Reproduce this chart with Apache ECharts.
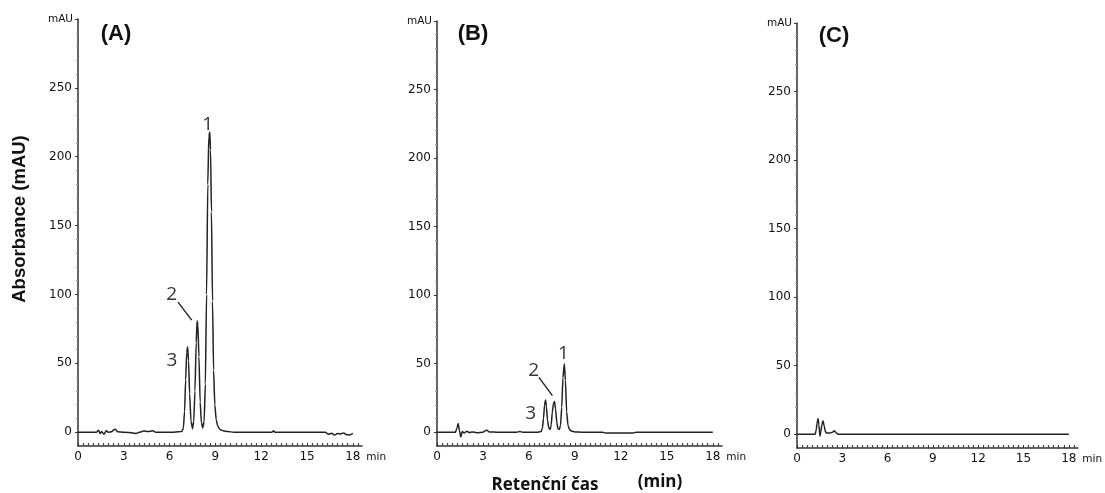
<!DOCTYPE html>
<html>
<head>
<meta charset="utf-8">
<script src="https://cdn.jsdelivr.net/npm/echarts@6/dist/echarts.min.js"></script>
<style>html,body{margin:0;padding:0;background:#fff;}#c{width:1105px;height:493px;}</style>
</head>
<body>
<div id="c"></div>
<script>
// ---- data (time in min, absorbance in mAU) ----
var panelTitles = ['(A)', '(B)', '(C)'];
var xTickLabels = [0, 3, 6, 9, 12, 15, 18];
var yTickLabels = [0, 50, 100, 150, 200, 250];

var aTime = [0, 1.2, 1.35, 1.45, 1.55, 1.7, 1.85, 2.0, 2.2, 2.35, 2.45, 2.6, 3.0, 3.6, 3.8, 4.0, 4.3, 4.6, 4.9, 5.1, 6.0, 6.8,
  6.9, 6.98, 7.05, 7.12, 7.18, 7.24, 7.31, 7.4, 7.5, 7.58, 7.66, 7.74, 7.8, 7.85, 7.92, 8.0, 8.08, 8.17,
  8.26, 8.34, 8.42, 8.5, 8.57, 8.63, 8.68, 8.74, 8.81, 8.88, 8.96, 9.05, 9.15, 9.3, 9.5, 9.8, 10.2,
  12.0, 12.7, 12.8, 12.9, 13.5, 16.2, 16.4, 16.6, 16.8, 17.0, 17.2, 17.4, 17.6, 17.8, 18.0];
var aAbs = [0, 0, 1.5, -1, 0.5, -1.5, 1, 0, 0.3, 1.8, 2.2, 0.3, 0, -0.5, -1, 0, 0.8, 0.5, 1, 0, 0, 0.5,
  3, 15, 38, 58, 62, 52, 28, 8, 2.5, 8, 30, 65, 81, 78, 55, 22, 7, 3,
  8, 35, 100, 180, 215, 218, 205, 160, 95, 45, 20, 9, 4.5, 2, 1, 0.5, 0,
  0, 0, 1, 0, 0, 0, -1.5, -0.8, -2, -1, -1.2, -0.5, -1.8, -2, -0.8];

var bTime = [0, 1.2, 1.3, 1.38, 1.47, 1.55, 1.65, 1.8, 1.95, 2.1, 2.3, 2.6, 3.0, 3.15, 3.25, 3.4, 4.0, 5.2, 5.4, 5.6, 6.5,
  6.8, 6.88, 6.95, 7.02, 7.08, 7.14, 7.21, 7.3, 7.38, 7.45, 7.52, 7.6, 7.67, 7.74, 7.82, 7.9, 7.98,
  8.06, 8.14, 8.22, 8.31, 8.38, 8.46, 8.55, 8.65, 8.8, 9.0, 9.5, 10.8, 11.0, 12.8, 13.0, 18.0];
var bAbs = [0, 0, 3, 6.5, 1, -3.5, 0.5, -0.5, 0.8, -0.3, 0.3, -0.3, 0, 1.2, 1.5, 0.3, 0, 0, 0.6, 0, 0,
  0.5, 3, 10, 20, 23.5, 19, 9, 3, 2, 5, 14, 21, 22.5, 17, 7, 2.5, 2,
  5, 18, 40, 50, 38, 15, 5, 2, 0.8, 0.3, 0, 0, -0.5, -0.5, 0, 0];

var cTime = [0, 1.2, 1.27, 1.33, 1.39, 1.45, 1.52, 1.58, 1.65, 1.72, 1.8, 1.88, 1.95, 2.2, 2.35, 2.48, 2.6, 2.75, 18];
var cAbs = [0, 0, 3, 8, 11.5, 7, -1.5, 2, 7, 9.8, 6, 2, 1, 1, 1.5, 2.5, 1, 0, 0];

// peak annotations: [label, time, mAU]
var aPeakLabels = [['1', 8.5, 223], ['2', 6.14, 99.6], ['3', 6.16, 52]];
var bPeakLabels = [['1', 8.25, 57.4], ['2', 6.31, 45], ['3', 6.11, 13.6]];
var aLeader = [[6.55, 94.5], [7.45, 81.4]];
var bLeader = [[6.65, 40], [7.53, 26.8]];

function zip(t, v) { var out = []; for (var i = 0; i < t.length; i++) out.push([t[i], v[i]]); return out; }

var grids = [
  {left: 78, top: 19, width: 284, height: 427},
  {left: 437, top: 21, width: 285, height: 425},
  {left: 797, top: 23, width: 285, height: 425}
];

var tickFont = {fontFamily: 'DejaVu Sans', fontSize: 12, color: '#111'};
var xAxes = [], yAxes = [];
for (var g = 0; g < 3; g++) {
  xAxes.push({
    type: 'value', gridIndex: g, min: 0, max: 18.6, interval: 3,
    name: 'min', nameLocation: 'end', nameGap: 3,
    nameTextStyle: {fontFamily: 'DejaVu Sans', fontSize: 10.5, color: '#111', verticalAlign: 'top', padding: [6, 0, 0, 0]},
    axisLine: {show: true, onZero: false, lineStyle: {color: '#333', width: 1.5}},
    axisTick: {show: true, inside: true, length: 3, customValues: xTickLabels, lineStyle: {color: '#333'}},
    minorTick: {show: true, splitNumber: 9, length: 3, lineStyle: {color: '#444', width: 1.2}},
    axisLabel: Object.assign({margin: 5, customValues: xTickLabels}, tickFont),
    splitLine: {show: false}
  });
  yAxes.push({
    type: 'value', gridIndex: g, min: -10, max: 300,
    name: 'mAU', nameLocation: 'end', nameGap: 0,
    nameTextStyle: {fontFamily: 'DejaVu Sans', fontSize: 10.5, color: '#111', align: 'right', verticalAlign: 'middle', padding: [0, 5, 0, 0]},
    axisLine: {show: true, onZero: false, lineStyle: {color: '#333', width: 1.5}},
    axisTick: {show: true, inside: false, length: 3, customValues: [0, 50, 100, 150, 200, 250, 300], lineStyle: {color: '#333'}},
    minorTick: {show: true, splitNumber: 5, length: 2, lineStyle: {color: '#999'}},
    axisLabel: Object.assign({margin: 6, customValues: yTickLabels}, tickFont),
    splitLine: {show: false}
  });
}

function peakMarks(labels) {
  return {
    symbol: 'circle', symbolSize: 0, silent: true,
    label: {show: true, position: 'inside', formatter: '{b}', fontFamily: 'Open Sans', fontSize: 19, color: '#333'},
    data: labels.map(function (p) { return {name: p[0], coord: [p[1], p[2]]}; })
  };
}
function leaderLine(seg) {
  return {
    symbol: ['none', 'none'], silent: true, animation: false,
    label: {show: false},
    lineStyle: {color: '#222', width: 1.4, type: 'solid'},
    data: [[{coord: seg[0]}, {coord: seg[1]}]]
  };
}

var lineStyle = {color: '#222', width: 1.5};
var series = [
  {type: 'line', xAxisIndex: 0, yAxisIndex: 0, data: zip(aTime, aAbs), showSymbol: false, smooth: 0.2, smoothMonotone: 'x',
   lineStyle: lineStyle, markPoint: peakMarks(aPeakLabels), markLine: leaderLine(aLeader)},
  {type: 'line', xAxisIndex: 1, yAxisIndex: 1, data: zip(bTime, bAbs), showSymbol: false, smooth: 0.2, smoothMonotone: 'x',
   lineStyle: lineStyle, markPoint: peakMarks(bPeakLabels), markLine: leaderLine(bLeader)},
  {type: 'line', xAxisIndex: 2, yAxisIndex: 2, data: zip(cTime, cAbs), showSymbol: false, smooth: 0.2, smoothMonotone: 'x',
   lineStyle: lineStyle}
];

var titleCenters = [[116, 34], [473, 34], [834, 36]];
var graphics = panelTitles.map(function (t, i) {
  return {type: 'text', x: titleCenters[i][0], y: titleCenters[i][1],
    style: {text: t, fontFamily: 'Liberation Sans', fontWeight: 'bold', fontSize: 22, fill: '#111', textAlign: 'center', textVerticalAlign: 'middle'}};
});
graphics.push({type: 'text', x: 20, y: 219, rotation: Math.PI / 2,
  style: {text: 'Absorbance (mAU)', fontFamily: 'Liberation Sans', fontWeight: 'bold', fontSize: 18.5, fill: '#111', textAlign: 'center', textVerticalAlign: 'middle'}});
graphics.push({type: 'text', x: 545, y: 485,
  style: {text: 'Retenční čas', fontFamily: 'Open Sans', fontWeight: 'bold', fontSize: 17, fill: '#111', textAlign: 'center', textVerticalAlign: 'middle'}});
graphics.push({type: 'text', x: 660, y: 482,
  style: {text: '(min)', fontFamily: 'Open Sans', fontWeight: 'bold', fontSize: 17, fill: '#111', textAlign: 'center', textVerticalAlign: 'middle'}});

var chart = echarts.init(document.getElementById('c'), null, {renderer: 'canvas'});
chart.setOption({
  animation: false,
  backgroundColor: '#fff',
  grid: grids,
  xAxis: xAxes,
  yAxis: yAxes,
  series: series,
  graphic: graphics
});
</script>
</body>
</html>
